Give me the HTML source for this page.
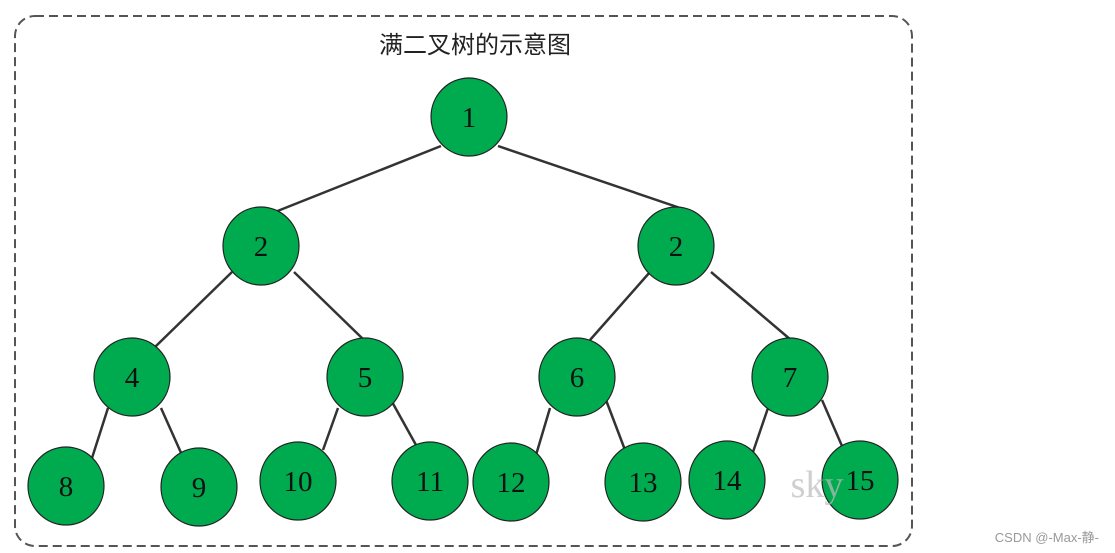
<!DOCTYPE html>
<html><head><meta charset="utf-8"><style>
html,body{margin:0;padding:0;background:#fff;width:1115px;height:553px;overflow:hidden}
</style></head><body>
<svg width="1115" height="553" viewBox="0 0 1115 553" xmlns="http://www.w3.org/2000/svg">
<rect x="15" y="16" width="897" height="530" rx="20" ry="20" fill="none" stroke="#555" stroke-width="2" stroke-dasharray="9,5"/>
<text x="475" y="53" font-family="'Noto Sans CJK SC','Noto Serif CJK SC',sans-serif" font-size="24" fill="#222" text-anchor="middle">满二叉树的示意图</text>
<g stroke="#333" stroke-width="2.5">
<line x1="441" y1="146" x2="275" y2="212"/><line x1="498" y1="146" x2="686" y2="210"/>
<line x1="232" y1="272" x2="155" y2="347"/><line x1="294" y1="272" x2="364" y2="340"/>
<line x1="650" y1="272" x2="590" y2="340"/><line x1="711" y1="272" x2="791" y2="340"/>
<line x1="108" y1="408" x2="92" y2="458"/><line x1="161" y1="408" x2="182" y2="455"/>
<line x1="338" y1="408" x2="323" y2="450"/><line x1="391" y1="400" x2="416" y2="445"/>
<line x1="550" y1="408" x2="536" y2="455"/><line x1="606" y1="400" x2="625" y2="450"/>
<line x1="768" y1="408" x2="753" y2="452"/><line x1="822" y1="400" x2="842" y2="446"/>
</g>
<g fill="#00aa4f" stroke="#222" stroke-width="1.2">
<ellipse cx="469" cy="117" rx="38" ry="39"/>
<ellipse cx="261" cy="246" rx="38" ry="39"/><ellipse cx="676" cy="246" rx="38" ry="39"/>
<ellipse cx="132" cy="377" rx="38" ry="39"/><ellipse cx="365" cy="377" rx="38" ry="39"/><ellipse cx="577" cy="377" rx="38" ry="39"/><ellipse cx="790" cy="377" rx="38" ry="39"/>
<ellipse cx="66" cy="486" rx="38" ry="39"/><ellipse cx="199" cy="487" rx="38" ry="39"/><ellipse cx="298" cy="481" rx="38" ry="39"/><ellipse cx="430" cy="481" rx="38" ry="39"/>
<ellipse cx="511" cy="482" rx="38" ry="39"/><ellipse cx="643" cy="482" rx="38" ry="39"/><ellipse cx="727" cy="480" rx="38" ry="39"/><ellipse cx="860" cy="480" rx="38" ry="39"/>
</g>
<text x="817" y="497" font-family="'Liberation Serif',serif" font-size="38" fill="#bbb" fill-opacity="0.7" text-anchor="middle">sky</text>
<g font-family="'Liberation Serif',serif" font-size="29" fill="#111" text-anchor="middle">
<text x="469" y="127">1</text>
<text x="261" y="256">2</text><text x="676" y="256">2</text>
<text x="132" y="387">4</text><text x="365" y="387">5</text><text x="577" y="387">6</text><text x="790" y="387">7</text>
<text x="66" y="496">8</text><text x="199" y="497">9</text><text x="298" y="491">10</text><text x="430" y="491">11</text>
<text x="511" y="492">12</text><text x="643" y="492">13</text><text x="727" y="490">14</text><text x="860" y="490">15</text>
</g>
<text x="1099" y="542" font-family="'Liberation Sans','Noto Sans CJK SC',sans-serif" font-size="13" fill="#999" text-anchor="end">CSDN @-Max-静-</text>
</svg>
</body></html>
